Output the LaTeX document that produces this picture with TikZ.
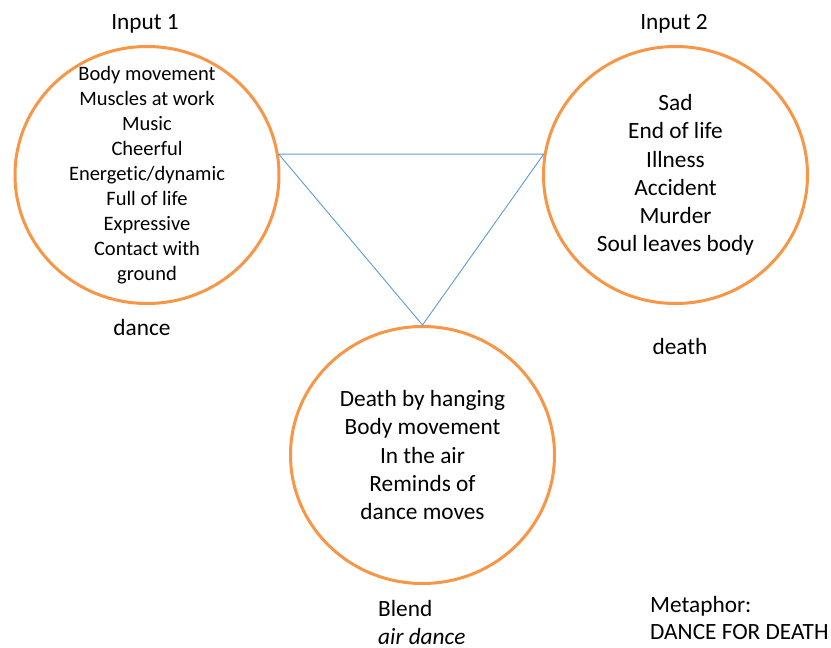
\documentclass[tikz,border=0pt]{standalone}
\usepackage{fontspec}
\setmainfont{Carlito}[Ligatures=NoCommon]
\usetikzlibrary{shapes.geometric,positioning}

\definecolor{spaceorange}{HTML}{F79646}
\definecolor{linkblue}{HTML}{5B9BD5}

\begin{document}
\begin{tikzpicture}[x=1pt,
            y=-1pt,
            space/.style={ellipse,draw=spaceorange,line width=3pt,
                          minimum width=264pt,minimum height=257pt,inner sep=0pt},
            big/.style={font=\fontsize{23.3}{28.3}\selectfont,align=center,inner sep=0pt},
            small/.style={font=\fontsize{20.5}{25}\selectfont,align=center,inner sep=0pt},
            link/.style={draw=linkblue,line width=0.9pt}]

        \useasboundingbox (0,0) rectangle (831,648);

        \node[space] (in1) at (147,175)   {};
        \node[space] (in2) at (675.5,175) {};
        \node[space] (bl)  at (422.5,455) {};

        \node[small] (in1txt) at (in1.center) {Body movement\\Muscles at work\\Music\\Cheerful\\
                Energetic/dynamic\\Full of life\\Expressive\\Contact with\\ground};
        \node[big]   (in2txt) at (in2.center) {Sad\\End of life\\Illness\\Accident\\Murder\\Soul leaves body};
        \node[big]   (bltxt)  at (bl.center)  {Death by hanging\\Body movement\\In the air\\Reminds of\\dance moves};

        \node[big] (in1lab) at (145,24)  {Input 1};
        \node[big] (in2lab) at (674,24)  {Input 2};
        \node[big] (in1nam) at (142,327) {dance};
        \node[big] (in2nam) at (680,346) {death};
        \node[big,align=left,anchor=west] (blnam) at (378,622.5) {Blend\\\textit{air dance}};
        \node[big,align=left,anchor=west,font=\fontsize{23.3}{26.5}\selectfont] (meta) at (650,618)
                {Metaphor:\\DANCE FOR DEATH};

        \draw[link] (in1.9) -- (in2.171) -- (bl.north) -- cycle;

    \end{tikzpicture}
\end{document}
